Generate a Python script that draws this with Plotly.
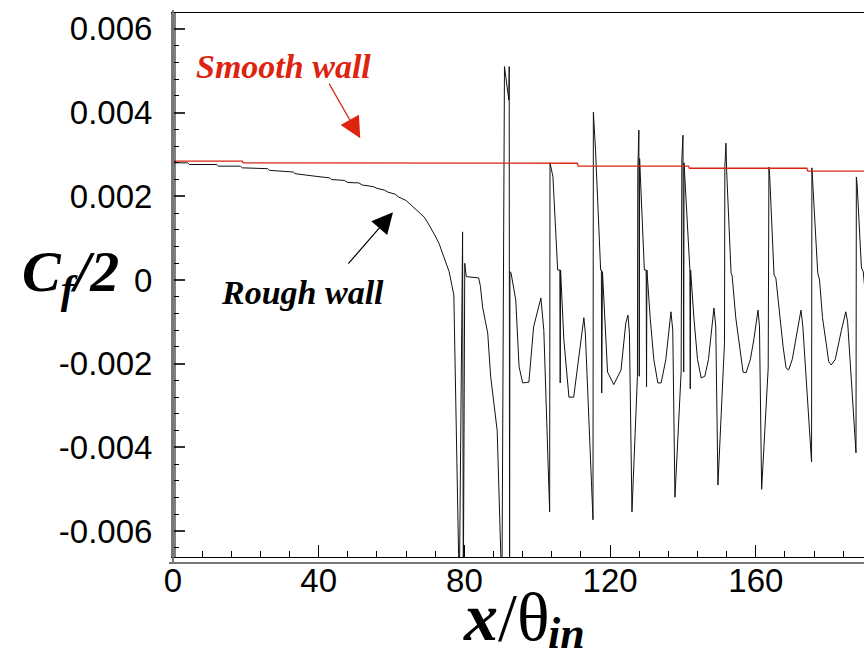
import plotly.graph_objects as go

# ---------------- data (Cf/2 values given in units of 1e-3) ----------------
smooth_x = [0, 19, 19.3, 111, 111.3, 141.5, 141.8, 174, 174.3, 190]
smooth_cf_e3 = [2.84, 2.84, 2.80, 2.79, 2.72, 2.72, 2.67, 2.67, 2.60, 2.60]

rough_x = [0, 4, 4.5, 12, 12.5, 18.5, 19, 26, 26.5, 33, 33.5, 38.5, 39, 43, 43.5,
           47, 48, 51, 52, 55, 56, 58, 59, 61, 62, 64, 65, 66.5, 67.5, 69, 70, 71,
           72, 73, 74, 75, 75.8, 76.5, 77.1,
           78.6, 79.5, 79.7, 80.1, 80.5, 83.9, 84.4, 85, 86.4, 87.2, 89, 90.3,
           91.0, 92.2, 92.3, 92.4, 92.5, 92.8, 94.1, 95, 96, 97.7, 99, 100.5, 101, 101.8,
           103.4, 103.5, 104.3, 105.6, 106.2, 106.3, 106.4, 107.3, 108.7, 110, 112, 112.8, 113.2,
           115.3, 115.4, 116, 117.4, 117.6, 117.7, 117.9, 119.3, 121, 123, 124.3, 124.9, 125.3,
           126.0, 127.5, 127.6, 127.9, 128.0, 128.1, 129.4, 129.9, 130.0, 130.1, 131, 132, 133.1, 134,
           135.3, 136.7, 137.2,
           137.8, 139.5, 139.7, 140, 140.2, 140.3, 141.7, 141.9, 142, 142.1, 143, 144, 145, 146,
           147, 148.5, 149,
           149.6, 151.4, 151.5, 151.8, 152, 153.2, 153.5, 154.5, 155.6, 156.5, 157.3, 158.5, 159.5,
           160.6, 161,
           161.6, 163.4, 163.6, 163.8, 165, 165.5, 166.5, 167.5, 168.3, 169, 170, 171.4, 172.4, 172.9,
           175.3, 175.4, 175.6, 177, 177.5, 178.3, 179.3, 180, 180.7, 181.8, 183.5, 184.7, 185.2,
           187.5, 187.6, 187.8, 189, 189.5, 190]
rough_cf_e3 = [2.80, 2.80, 2.76, 2.76, 2.72, 2.72, 2.68, 2.66, 2.62, 2.58, 2.54, 2.50, 2.48, 2.44, 2.40,
               2.38, 2.33, 2.32, 2.27, 2.23, 2.19, 2.15, 2.10, 2.05, 1.98, 1.90, 1.82, 1.72, 1.62, 1.50, 1.36, 1.22,
               1.05, 0.88, 0.65, 0.42, 0.20, -0.10, -0.36,
               -7.5, 1.15, -7.5, 0.40, 0.08, 0.05, -0.15, -0.65, -1.27, -2.30, -3.60, -7.5,
               5.10, 4.30, 5.10, -7.5, 0.20, 0.17, -0.48, -2.07, -2.46, -2.44, -1.12, -0.60, -0.43, -1.20,
               -5.54, 2.80, 2.47, 0.24, 0.24, -2.46, 0.24, -1.43, -2.80, -2.80, -1.50, -0.90, -1.27,
               -5.73, 4.01, 3.10, 0.24, 0.24, -2.70, 0.20, -2.20, -2.50, -2.15, -1.03, -0.84, -1.27,
               -5.54, -2.30, 2.60, 3.58, -2.30, 2.90, 0.24, 0.24, -2.55, 0.24, -0.90, -1.90, -2.46, -2.46,
               -1.90, -0.76, -1.20,
               -5.19, -2.20, 2.90, 3.46, -2.20, 2.80, 0.24, 0.24, -2.60, 0.24, -0.90, -1.90, -2.34, -2.30,
               -1.90, -0.67, -1.10,
               -4.90, -1.50, 2.70, 3.27, 2.60, 0.17, 0.10, -0.90, -1.60, -2.20, -2.22, -1.90, -1.40,
               -0.72, -1.10,
               -5.00, -2.10, 2.70, 2.50, 0.12, 0.05, -0.80, -1.60, -2.10, -2.15, -1.90, -1.20, -0.72, -1.10,
               -4.35, 2.68, 2.40, 0.17, 0.00, -0.90, -1.50, -1.95, -2.03, -1.90, -1.20, -0.76, -1.00,
               -4.13, 2.46, 2.30, 0.29, 0.20, -0.30]

x_tickvals = [0, 40, 80, 120, 160]
x_ticktext = ["0", "40", "80", "120", "160"]
y_tickvals = [-0.006, -0.004, -0.002, 0, 0.002, 0.004, 0.006]
y_ticktext = ["-0.006", "-0.004", "-0.002", "0", "0.002", "0.004", "0.006"]

smooth_cf = [v * 1e-3 for v in smooth_cf_e3]
rough_cf = [v * 1e-3 for v in rough_cf_e3]

RED = "#dc2410"
W, H = 864, 661
L, T, B = 173, 13, 104
PW, PH = W - L, H - T - B

fig = go.Figure()
fig.add_trace(go.Scatter(x=rough_x, y=rough_cf, mode="lines",
                         line=dict(color="#111111", width=1), name="Rough wall"))
fig.add_trace(go.Scatter(x=smooth_x, y=smooth_cf, mode="lines",
                         line=dict(color=RED, width=1.3), name="Smooth wall"))

tickfont = dict(family="Liberation Sans, Arial, sans-serif", size=33, color="black")

fig.update_layout(
    width=W, height=H,
    margin=dict(l=L, r=0, t=T, b=B, pad=0),
    paper_bgcolor="white", plot_bgcolor="white",
    showlegend=False,
    xaxis=dict(range=[0, 189.7], tickvals=x_tickvals, ticktext=x_ticktext,
               ticks="inside", ticklen=12, tickwidth=1, tickcolor="black",
               showline=True, linecolor="black", linewidth=1, mirror=True,
               showgrid=False, zeroline=False, tickfont=tickfont,
               ticklabelstandoff=-6,
               minor=dict(dtick=8, tick0=0, ticks="inside", ticklen=6,
                          tickcolor="black", tickwidth=1, showgrid=False)),
    yaxis=dict(range=[-0.006619, 0.00638], tickvals=y_tickvals, ticktext=y_ticktext,
               ticks="inside", ticklen=12, tickwidth=1.5, tickcolor="#333333",
               showline=True, linecolor="#777777", linewidth=2, mirror=False,
               showgrid=False, zeroline=False, tickfont=tickfont,
               ticklabelstandoff=12,
               minor=dict(dtick=0.0004, tick0=0, ticks="inside", ticklen=6,
                          tickcolor="black", tickwidth=1, showgrid=False)),
)

# inner black frame line on left and outer gray bottom line
fig.add_shape(type="line", xref="paper", yref="paper",
              x0=2 / PW, x1=2 / PW, y0=0, y1=1, line=dict(color="black", width=1))
fig.add_shape(type="line", xref="paper", yref="paper",
              x0=-4 / PW, x1=1, y0=-6 / PH, y1=-6 / PH, line=dict(color="#777777", width=2))
fig.add_shape(type="line", xref="paper", yref="paper",
              x0=0, x1=0, y0=-6 / PH, y1=1 + 3 / PH, line=dict(color="#777777", width=2))

serif = "Liberation Serif, Times New Roman, serif"

# axis titles (x title split into main part and subscript)
fig.add_annotation(xref="paper", yref="paper", x=(551 - L) / PW, y=(H - B - 657) / PH,
                   xanchor="right", yanchor="bottom", showarrow=False,
                   text="<b><i>x</i></b>/θ",
                   font=dict(family=serif, size=68, color="black"))
fig.add_annotation(xref="paper", yref="paper", x=(546 - L) / PW, y=(H - B - 660) / PH,
                   xanchor="left", yanchor="bottom", showarrow=False,
                   text="<b><i>in</i></b>",
                   font=dict(family=serif, size=44, color="black"))
fig.add_annotation(xref="paper", yref="paper", x=(70 - L) / PW, y=(H - B - 275) / PH,
                   xanchor="center", yanchor="middle", showarrow=False,
                   text="<b><i>C<sub>f</sub>/2</i></b>",
                   font=dict(family=serif, size=58, color="black"))

# labels with arrows
fig.add_annotation(xref="paper", yref="paper", x=(283 - L) / PW, y=(H - B - 67) / PH,
                   xanchor="center", yanchor="middle", showarrow=False,
                   text="<b><i>Smooth wall</i></b>",
                   font=dict(family=serif, size=34, color=RED))
fig.add_annotation(x=51.4, y=0.00339, ax=-32, ay=-56, text="", showarrow=True,
                   arrowhead=2, arrowsize=3.5, arrowwidth=1.2, arrowcolor=RED)
fig.add_annotation(xref="paper", yref="paper", x=(302 - L) / PW, y=(H - B - 292) / PH,
                   xanchor="center", yanchor="middle", showarrow=False,
                   text="<b><i>Rough wall</i></b>",
                   font=dict(family=serif, size=34, color="black"))
fig.add_annotation(x=60.4, y=0.00162, ax=-46, ay=53, text="", showarrow=True,
                   arrowhead=2, arrowsize=3.5, arrowwidth=1.2, arrowcolor="black")

fig.write_html("out.html")
